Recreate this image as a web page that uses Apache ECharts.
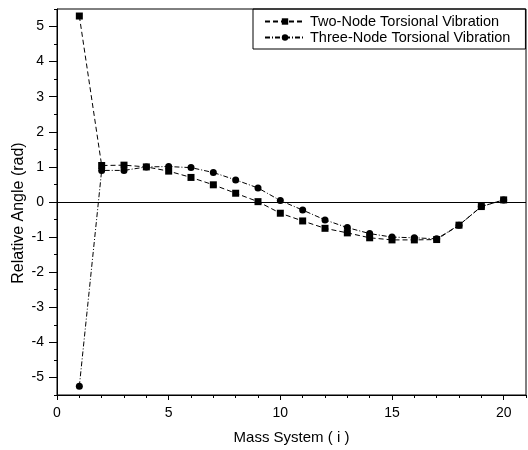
<!DOCTYPE html>
<html>
<head>
<meta charset="utf-8">
<script src="https://cdn.jsdelivr.net/npm/echarts@6/dist/echarts.min.js"></script>
<style>
  html, body { margin: 0; padding: 0; background: #fff; }
  #chart { width: 528px; height: 450px; }
</style>
</head>
<body>
<div id="chart"></div>
<script>
// Mass index along the shaft model
const massIndex = [1, 2, 3, 4, 5, 6, 7, 8, 9, 10, 11, 12, 13, 14, 15, 16, 17, 18, 19, 20];
// Relative angle (rad) of each mass, two-node mode
const twoNode = [5.30, 1.04, 1.05, 1.00, 0.88, 0.70, 0.49, 0.25, 0.01, -0.32, -0.54, -0.75, -0.88, -1.02, -1.08, -1.08, -1.07, -0.66, -0.13, 0.06];
// Relative angle (rad) of each mass, three-node mode
const threeNode = [-5.25, 0.90, 0.90, 1.00, 1.01, 0.98, 0.84, 0.63, 0.40, 0.04, -0.23, -0.51, -0.73, -0.90, -1.00, -1.02, -1.05, -0.66, -0.13, 0.06];

const seriesNames = ['Two-Node Torsional Vibration', 'Three-Node Torsional Vibration'];
const xTitle = 'Mass System ( i )';
const yTitle = 'Relative Angle (rad)';

// Plot frame
const W = 528, H = 450;
const L = 57, R = 2, T = 9, B = 55;
const xMin = 0, xMax = 21, yMin = -5.5, yMax = 5.5;
const plotW = W - L - R, plotH = H - T - B;
const pxPerX = plotW / (xMax - xMin);
const pxPerY = plotH / (yMax - yMin);

const font = 'Liberation Sans, Arial, sans-serif';
const black = '#000';

const chart = echarts.init(document.getElementById('chart'), null, { renderer: 'canvas' });

chart.setOption({
  animation: false,
  backgroundColor: '#fff',
  textStyle: { fontFamily: font, color: black },
  grid: [
    // data frame with minor ticks
    { left: L, right: R, top: T, bottom: B, show: true, borderColor: black, borderWidth: 1, backgroundColor: 'transparent' },
    // labelled major ticks on whole units
    { left: L, right: R + (xMax - 20) * pxPerX, top: T + (yMax - 5) * pxPerY, bottom: B + (-5 - yMin) * pxPerY, show: false }
  ],
  legend: {
    left: 253, top: T,
    orient: 'vertical',
    borderColor: black, borderWidth: 1, borderRadius: 0,
    padding: [5, 15, 4, 11],
    itemGap: 1,
    itemWidth: 40, itemHeight: 8,
    textStyle: { fontFamily: font, fontSize: 14.5, color: black },
    data: seriesNames
  },
  xAxis: [
    {
      gridIndex: 0, type: 'value', min: xMin, max: xMax, interval: 1,
      name: xTitle, nameLocation: 'middle', nameGap: 35,
      nameTextStyle: { fontFamily: font, fontSize: 15, color: black },
      axisLine: { show: true, onZero: false, lineStyle: { color: black, width: 1 } },
      axisTick: { show: true, inside: false, length: 3, lineStyle: { color: black } },
      axisLabel: { show: false },
      splitLine: { show: false }
    },
    {
      gridIndex: 1, type: 'value', min: 0, max: 20, interval: 5,
      axisLine: { show: false, onZero: false },
      axisTick: { show: true, inside: false, length: 5, lineStyle: { color: black } },
      axisLabel: { show: true, margin: 11, fontFamily: font, fontSize: 14, color: black },
      splitLine: { show: false },
      position: 'bottom',
      offset: (-5 - yMin) * pxPerY
    }
  ],
  yAxis: [
    {
      gridIndex: 0, type: 'value', min: yMin, max: yMax, interval: 0.5,
      name: yTitle, nameLocation: 'middle', nameGap: 30, nameRotate: 90,
      nameTextStyle: { fontFamily: font, fontSize: 16, color: black, padding: [0, 22, 0, 0] },
      axisLine: { show: true, onZero: false, lineStyle: { color: black, width: 1 } },
      axisTick: { show: true, inside: false, length: 3, lineStyle: { color: black } },
      axisLabel: { show: false },
      splitLine: { show: false }
    },
    {
      gridIndex: 1, type: 'value', min: -5, max: 5, interval: 1,
      axisLine: { show: false, onZero: false },
      axisTick: { show: true, inside: false, length: 8, lineStyle: { color: black } },
      axisLabel: { show: true, margin: 13, fontFamily: font, fontSize: 14, color: black },
      splitLine: { show: false }
    }
  ],
  series: [
    {
      name: seriesNames[0], type: 'line', xAxisIndex: 0, yAxisIndex: 0,
      data: massIndex.map((m, i) => [m, twoNode[i]]),
      symbol: 'rect', symbolSize: 7,
      itemStyle: { color: black },
      lineStyle: { color: black, width: 1, type: [5, 3] },
      clip: true,
      markLine: {
        silent: true, symbol: 'none', label: { show: false },
        lineStyle: { color: black, width: 1, type: 'solid' },
        data: [{ yAxis: 0 }]
      }
    },
    {
      name: seriesNames[1], type: 'line', xAxisIndex: 0, yAxisIndex: 0,
      data: massIndex.map((m, i) => [m, threeNode[i]]),
      symbol: 'circle', symbolSize: 7,
      itemStyle: { color: black },
      lineStyle: { color: black, width: 1, type: [5, 2, 1, 2] },
      clip: true
    }
  ]
});
</script>
</body>
</html>
